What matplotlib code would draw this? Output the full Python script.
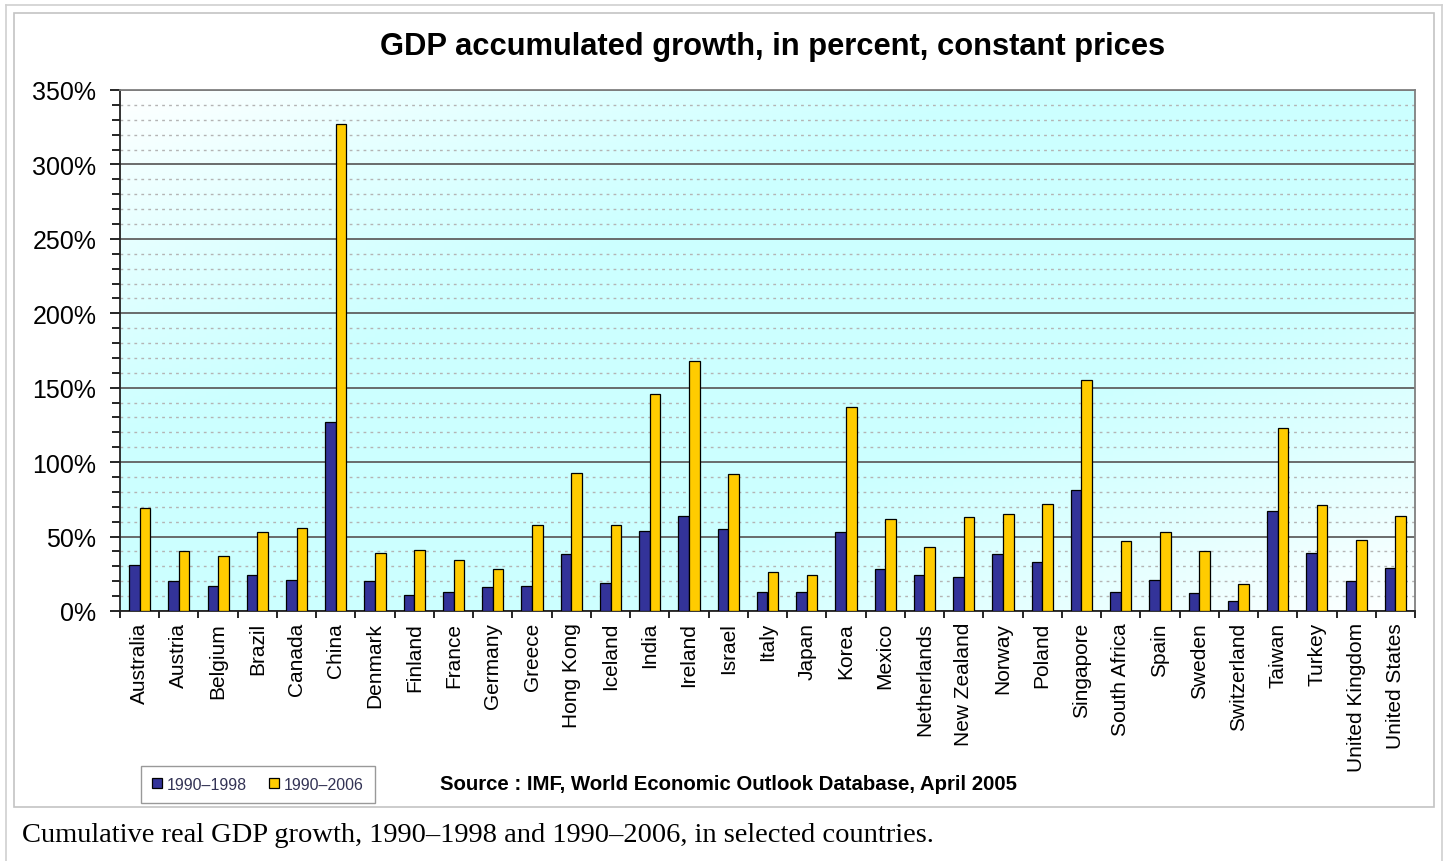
import numpy as np
import matplotlib
matplotlib.use("Agg")
import matplotlib.pyplot as plt
from matplotlib.lines import Line2D
from matplotlib.patches import Rectangle

# data (percent)
countries = ["Australia", "Austria", "Belgium", "Brazil", "Canada", "China", "Denmark",
             "Finland", "France", "Germany", "Greece", "Hong Kong", "Iceland", "India",
             "Ireland", "Israel", "Italy", "Japan", "Korea", "Mexico", "Netherlands",
             "New Zealand", "Norway", "Poland", "Singapore", "South Africa", "Spain",
             "Sweden", "Switzerland", "Taiwan", "Turkey", "United Kingdom", "United States"]
g_1998 = [31, 20, 17, 24, 21, 127, 20, 11, 13, 16, 17, 38, 19, 54, 64, 55, 13, 13, 53,
          28, 24, 23, 38, 33, 81, 13, 21, 12, 7, 67, 39, 20, 29]
g_2006 = [69, 40, 37, 53, 56, 327, 39, 41, 34, 28, 58, 93, 58, 146, 168, 92, 26, 24, 137,
          62, 43, 63, 65, 72, 155, 47, 53, 40, 18, 123, 71, 48, 64]
labels = ["1990–1998", "1990–2006"]
title = "GDP accumulated growth, in percent, constant prices"
source = "Source : IMF, World Economic Outlook Database, April 2005"
caption = "Cumulative real GDP growth, 1990–1998 and 1990–2006, in selected countries."

plt.rcParams['font.family'] = ['Liberation Sans', 'DejaVu Sans']

W, H = 1447, 862
fig = plt.figure(figsize=(W/100, H/100), dpi=100)

def fx(px):
    return px / W

def fy(py):
    return 1 - py / H

# frames
fig.add_artist(Line2D([fx(6), fx(6)], [fy(6), 0], color="#d0d0d0", lw=1.2))
fig.add_artist(Line2D([fx(1442), fx(1442)], [fy(6), 0], color="#d0d0d0", lw=1.2))
fig.add_artist(Line2D([fx(6), fx(1442)], [fy(6), fy(6)], color="#d0d0d0", lw=1.2))
fig.add_artist(Rectangle((fx(14), fy(808)), fx(1434) - fx(14), fy(14) - fy(808),
                         fill=False, edgecolor="#c4c4c4", lw=1.2))

rect = [fx(120), fy(612), fx(1415) - fx(120), fy(91) - fy(612)]

# gradient background
bg = fig.add_axes(rect, zorder=0)
xx, yy = np.meshgrid(np.linspace(0, 1, 300), np.linspace(1, 0, 150))
u = (xx + (1 - yy)) / 2
s = np.clip(1 - np.abs(2*u - 1)**1.4, 0, 1)
s = np.clip(s * 1.25, 0, 1)
img = np.ones((150, 300, 3))
img[..., 0] = 1 - 0.2 * s
bg.imshow(img, extent=[0, 1, 0, 1], aspect='auto', origin='upper')
bg.set_axis_off()

ax = fig.add_axes(rect, zorder=1)
ax.patch.set_alpha(0)

n = len(countries)
x = np.arange(n) + 0.5
w = 0.27
b1 = ax.bar(x - w/2, g_1998, w, color="#333399", edgecolor="black", lw=0.9, label=labels[0], zorder=3)
b2 = ax.bar(x + w/2, g_2006, w, color="#ffcc00", edgecolor="black", lw=0.9, label=labels[1], zorder=3)

ax.set_xlim(0, n)
ax.set_ylim(0, 350)
ax.set_yticks(np.arange(0, 351, 50))
ax.set_yticks(np.arange(0, 351, 10), minor=True)
ax.set_yticklabels([f"{v}%" for v in range(0, 351, 50)], fontsize=18)
ax.yaxis.grid(True, which='major', color="#606060", lw=1.3, zorder=1)
ax.yaxis.grid(True, which='minor', color="#b4b4b4", lw=1.0, ls=(0, (2, 3)), zorder=1)
ax.set_axisbelow(True)

ax.set_xticks(np.arange(0, n + 1))
ax.set_xticklabels([])
ax.set_xticks(x, minor=True)
ax.set_xticklabels(countries, minor=True, rotation=90, fontsize=15)
ax.tick_params(axis='x', which='minor', length=0, pad=8)
ax.tick_params(axis='x', which='major', length=5, direction='out', width=1.2)
ax.tick_params(axis='y', which='major', length=7, width=1.2, pad=10)
ax.tick_params(axis='y', which='minor', length=6, width=1.2)
for sp in ["left", "bottom"]:
    ax.spines[sp].set_color("#222222")
    ax.spines[sp].set_linewidth(1.3)
for sp in ["top", "right"]:
    ax.spines[sp].set_color("#808080")
    ax.spines[sp].set_linewidth(1.3)

fig.text(fx(773), fy(47), title, ha='center', va='center', fontsize=22.2, fontweight='bold')
fig.text(fx(440), fy(785), source, ha='left', va='center', fontsize=14.7, fontweight='bold')
fig.text(fx(22), fy(836), caption, ha='left', va='center', fontsize=20.5,
         family=['Liberation Serif', 'DejaVu Serif'])

leg = fig.legend(handles=[b1, b2], loc='center', bbox_to_anchor=(fx(258), fy(785.5)),
                 ncol=2, fontsize=11.5, frameon=True, fancybox=False, edgecolor="#808080",
                 handlelength=0.6, handleheight=0.6, handletextpad=0.3, columnspacing=1.4,
                 borderpad=0.7, shadow=False)
for t in leg.get_texts():
    t.set_color("#333355")

fig.savefig("out.png", dpi=100)
